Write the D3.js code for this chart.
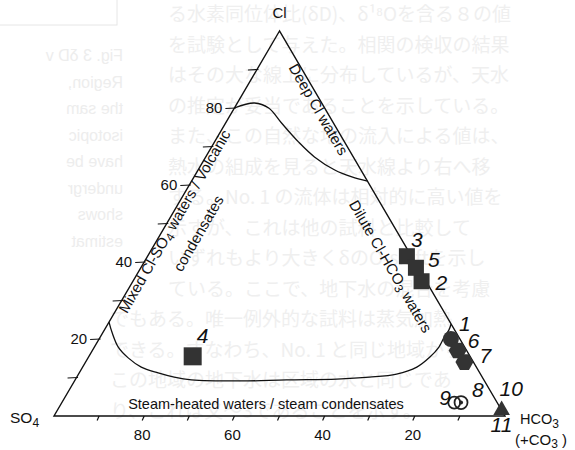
<!DOCTYPE html>
<html>
<head>
<meta charset="utf-8">
<script src="https://cdn.jsdelivr.net/npm/d3@7/dist/d3.min.js"></script>
<style>
  body { margin: 0; background: #fff; }
  svg { display: block; font-family: "Liberation Sans", Arial, sans-serif; }
</style>
</head>
<body>
<svg width="575" height="450"></svg>
<script>
// sample compositions, % of Cl / SO4 / HCO3
const sampleNo     = ['1', '2', '3', '4', '5', '6', '7', '8', '9', '10'];
const sampleCl     = [20, 35, 41.5, 15.5, 38.5, 17, 14, 3.5, 3.5, 1.5];
const sampleSO4    = [2, 1, 1, 61.5, 0.5, 2, 2, 8, 9.5, 0];
const sampleHCO3   = [78, 64, 57.5, 23, 61, 81, 84, 88.5, 87, 98.5];
const sampleSymbol = ['circle', 'square', 'square', 'square', 'square', 'hexagon', 'hexagon', 'bullseye', 'ring', 'triangle'];

// field boundaries [Cl, SO4, HCO3]
const boundaryDeepCl = [[80,20,0],[81.3,14.9,3.8],[80,12.4,7.6],[76.1,11.5,12.4],[71.2,10.2,18.6],
  [67.3,8.6,24.1],[63.9,5.8,30.3],[62.1,2.9,35],[61,0,39]];
const boundarySteam = [[24.4,75.6,0],[21.6,76.3,2.1],[17.9,76.8,5.3],[15.1,76,8.9],[12.7,74.3,13],
  [11.2,71.3,17.5],[10.1,68.3,21.6],[9.4,64.9,25.8],[9.1,53.9,37],[9.4,43.8,46.9],[9.6,32.5,57.9],
  [10.1,25,64.9],[10.9,18.6,70.5],[12.7,13.2,74.1],[15.3,9,75.7],[17.9,5.7,76.4],[20.3,3.4,76.3],
  [22.3,1.3,76.4],[23.9,0,76.1]];

const tickValues = [10, 20, 30, 40, 50, 60, 70, 80, 90];
const tickLabels = [20, 40, 60, 80];

// faint show-through text of the scanned page
const ghostEnglish = ['Fig. 3  δD v', 'Region,', 'the sam', 'isotopic', 'have be', 'undergr', 'shows', 'estimat'];
const ghostJapanese = [
  'る水素同位体比(δD)、δ¹⁸Oを含る８の値',
  'を試験として与えた。相関の検収の結果',
  'はその大な線上に分布しているが、天水',
  'の推定が妥当であることを示している。',
  'また、この自然な地の流入による値は、',
  '熱水の組成を見ると天水線より右へ移',
  'する。No. 1 の流体は相対的に高い値を',
  '示すが、これは他の試料と比較して',
  'いずれもより大きくδのO-shiftを示し',
  'ている。ここで、地下水の混合を考慮',
  'でもある。唯一例外的な試料は蒸気加熱',
  'できる。すなわち、No. 1 と同じ地域から',
  'この地域の地下水は区域の水と同じであ',
  'り、これは又〜3であることを示す。'
];

const svg = d3.select('svg');
const x = d3.scaleLinear().domain([0, 1]).range([54, 505]);
const y = d3.scaleLinear().domain([0, Math.sqrt(3) / 2]).range([416, 31]);

function project(cl, so4, hco3) {
  const s = cl + so4 + hco3;
  const a = cl / s, c = hco3 / s;
  return [x(c + a / 2), y(a * Math.sqrt(3) / 2)];
}

// ghost text first, behind everything
const ghost = svg.append('g').attr('fill', '#ededed');
ghost.append('rect').attr('x', -2).attr('y', -2).attr('width', 119).attr('height', 27)
  .attr('fill', 'none').attr('stroke', '#e6e6e6');
ghostEnglish.forEach((t, i) => {
  ghost.append('text')
    .attr('transform', `translate(123,${61 + i * 26.5}) scale(-1,1)`)
    .attr('font-size', 16)
    .text(t);
});
ghostJapanese.forEach((t, i) => {
  ghost.append('text')
    .attr('x', i < 10 ? 168 : 110)
    .attr('y', 21 + i * 30.5)
    .attr('font-family', '"Noto Sans CJK JP"')
    .attr('font-size', 19)
    .attr('fill', '#efefef')
    .text(t);
});

// triangle frame
const A = project(100, 0, 0), B = project(0, 100, 0), C = project(0, 0, 100);
svg.append('path')
  .attr('d', d3.line()([A, B, C, A]) + 'Z')
  .attr('fill', 'none')
  .attr('stroke', '#111')
  .attr('stroke-width', 1.4)
  .attr('stroke-linejoin', 'miter');

// left axis (Cl)
tickValues.forEach(v => {
  const [px, py] = project(v, 100 - v, 0);
  svg.append('line').attr('x1', px - 9).attr('y1', py + 0.5).attr('x2', px + 1.5).attr('y2', py)
    .attr('stroke', '#111').attr('stroke-width', 1.2);
});
tickLabels.forEach(v => {
  const [px, py] = project(v, 100 - v, 0);
  svg.append('text').attr('x', px - 12).attr('y', py).attr('dy', '0.36em')
    .attr('text-anchor', 'end').attr('font-size', 15).attr('fill', '#111').text(v);
});

// bottom axis (SO4)
tickValues.forEach(v => {
  const [px, py] = project(0, v, 100 - v);
  svg.append('line').attr('x1', px).attr('y1', py).attr('x2', px - 2).attr('y2', py + 4.5)
    .attr('stroke', '#111').attr('stroke-width', 1.2);
});
tickLabels.forEach(v => {
  const [px, py] = project(0, v, 100 - v);
  svg.append('text').attr('x', px - 2).attr('y', py + 24)
    .attr('text-anchor', 'middle').attr('font-size', 15).attr('fill', '#111').text(v);
});

// boundaries
const curve = d3.line().curve(d3.curveCatmullRom.alpha(0.5));
[boundaryDeepCl, boundarySteam].forEach(b => {
  svg.append('path')
    .attr('d', curve(b.map(p => project(p[0], p[1], p[2]))))
    .attr('fill', 'none').attr('stroke', '#111').attr('stroke-width', 1.3);
});

// vertex labels
svg.append('text').attr('x', A[0]).attr('y', 18).attr('text-anchor', 'middle')
  .attr('font-size', 15).attr('fill', '#111').text('Cl');
const so4 = svg.append('text').attr('x', 10).attr('y', 423).attr('font-size', 15.5).attr('fill', '#111');
so4.append('tspan').text('SO');
so4.append('tspan').attr('font-size', 12).attr('dy', 4).text('4');
const hco = svg.append('text').attr('x', 520).attr('y', 424).attr('font-size', 14.5).attr('fill', '#111');
hco.append('tspan').text('HCO');
hco.append('tspan').attr('font-size', 12).attr('dy', 4).text('3');
const co = svg.append('text').attr('x', 515).attr('y', 445).attr('font-size', 15).attr('fill', '#111');
co.append('tspan').text('(+CO');
co.append('tspan').attr('font-size', 12).attr('dy', 3).text('3');
co.append('tspan').attr('dy', -3).text(' )');

// field names
function fieldLabel(cx, cy, angle, parts, size) {
  const t = svg.append('text')
    .attr('transform', `translate(${cx},${cy}) rotate(${angle})`)
    .attr('text-anchor', 'middle').attr('dy', '0.35em')
    .attr('font-size', size).attr('fill', '#111');
  parts.forEach(p => {
    if (p.sub) t.append('tspan').attr('font-size', size * 0.8).attr('dy', 3).text(p.sub);
    else t.append('tspan').attr('dy', p.back ? -3 : 0).text(p.t);
  });
}
fieldLabel(314, 112, 60, [{t: 'Deep Cl waters'}], 15);
fieldLabel(386, 269, 60, [{t: 'Dilute Cl-HCO'}, {sub: '3'}, {t: ' waters', back: true}], 15);
fieldLabel(179, 224, -60, [{t: 'Mixed Cl-SO'}, {sub: '4'}, {t: ' waters / Volcanic', back: true}], 15);
fieldLabel(203, 236, -60, [{t: 'condensates'}], 15);
svg.append('text').attr('x', 266).attr('y', 409).attr('text-anchor', 'middle')
  .attr('font-size', 14.5).attr('fill', '#111').text('Steam-heated waters / steam condensates');

// samples
const samples = sampleNo.map((id, i) => ({
  id, symbol: sampleSymbol[i], pos: project(sampleCl[i], sampleSO4[i], sampleHCO3[i])
}));
const markFill = '#333';
const hexagon = r => d3.line()(d3.range(7).map(k => [r * Math.cos(k * Math.PI / 3), r * Math.sin(k * Math.PI / 3)])) + 'Z';

const marks = svg.append('g');
samples.forEach(s => {
  const g = marks.append('g').attr('transform', `translate(${s.pos[0]},${s.pos[1]})`);
  if (s.symbol === 'square') {
    const w = s.id === '4' ? 18 : 16;
    g.append('rect').attr('x', -w / 2).attr('y', -w / 2).attr('width', w).attr('height', w).attr('fill', markFill);
  } else if (s.symbol === 'circle') {
    g.append('circle').attr('r', 8).attr('fill', markFill);
  } else if (s.symbol === 'hexagon') {
    g.append('path').attr('d', hexagon(9)).attr('fill', markFill);
  } else if (s.symbol === 'ring') {
    g.append('circle').attr('r', 6).attr('fill', 'none').attr('stroke', '#222').attr('stroke-width', 1.8);
  } else if (s.symbol === 'bullseye') {
    g.append('circle').attr('r', 6.5).attr('fill', '#fff').attr('stroke', '#222').attr('stroke-width', 1.8);
    g.append('circle').attr('r', 2).attr('fill', '#222');
  } else if (s.symbol === 'triangle') {
    g.append('path').attr('d', d3.symbol(d3.symbolTriangle, 120)()).attr('fill', markFill);
  }
});

// sample numbers
const labelOffset = {'1': [8, -8], '2': [14, 9], '3': [4, -9], '4': [4, -13], '5': [12, -1],
  '6': [10, -3], '7': [15, 1], '8': [11, -6], '9': [-15, 2], '10': [-2, -14]};
const numbers = svg.append('g').attr('font-size', 21).attr('font-style', 'italic').attr('fill', '#111');
samples.forEach(s => {
  const o = labelOffset[s.id];
  numbers.append('text').attr('x', s.pos[0] + o[0]).attr('y', s.pos[1] + o[1]).text(s.id);
});
const tri = samples.find(s => s.id === '10');
numbers.append('text').attr('x', tri.pos[0] - 11).attr('y', tri.pos[1] + 22).text('11');
</script>
</body>
</html>
